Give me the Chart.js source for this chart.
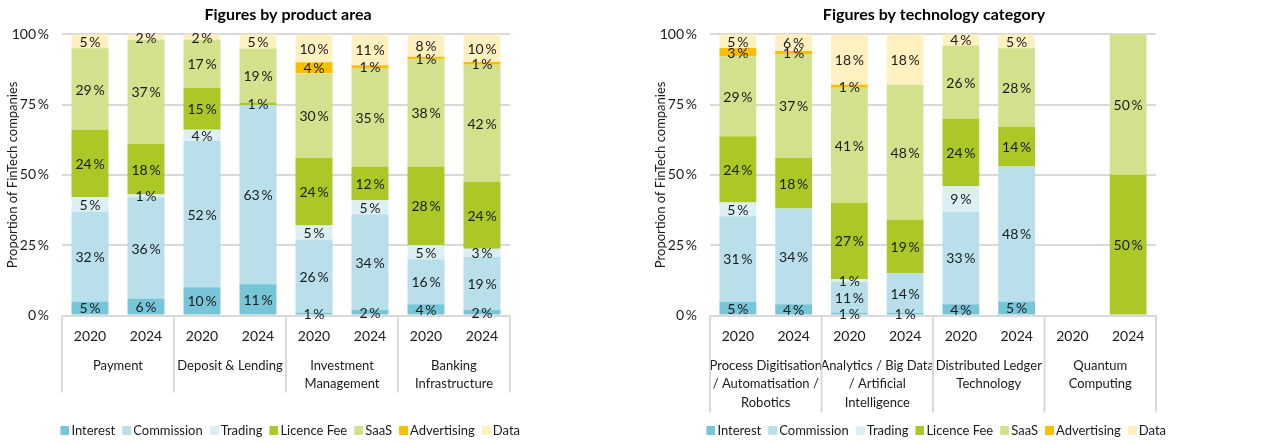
<!DOCTYPE html>
<html>
<head>
<meta charset="utf-8">
<script src="https://cdn.jsdelivr.net/npm/chart.js@4.4.1/dist/chart.umd.min.js"></script>
<style>
  html, body { margin: 0; padding: 0; background: #fff; }
  body { width: 1261px; height: 443px; position: relative; overflow: hidden; }
  .box { position: absolute; top: 0; height: 443px; }
  #left { left: 0; width: 576px; }
  #right { left: 648px; width: 572px; }
</style>
</head>
<body>
<div class="box" id="left"><canvas id="productChart"></canvas></div>
<div class="box" id="right"><canvas id="techChart"></canvas></div>
<script>
const years = ['2020', '2024'];
const productAreas = ['Payment', 'Deposit & Lending', ['Investment', 'Management'], ['Banking', 'Infrastructure']];
const techCategories = [
  ['Process Digitisation', '/ Automatisation /', 'Robotics'],
  ['Analytics / Big Data', '/ Artificial', 'Intelligence'],
  ['Distributed Ledger', 'Technology'],
  ['Quantum', 'Computing']
];
const revenueTypes = ['Interest', 'Commission', 'Trading', 'Licence Fee', 'SaaS', 'Advertising', 'Data'];
const revenueColors = ['#77c5d8', '#b9e0ea', '#dbeff5', '#acc827', '#d5e08c', '#fbbf00', '#fff0bf'];

// product area, 2020/2024 per area (values in %)
const productInterest    = [5, 6, 10, 11, 1, 2, 4, 2];
const productCommission  = [32, 36, 52, 63, 26, 34, 16, 19];
const productTrading     = [5, 1, 4, 0, 5, 5, 5, 3];
const productLicence     = [24, 18, 15, 1, 24, 12, 28, 24];
const productSaaS        = [29, 37, 17, 19, 30, 35, 38, 42];
const productAdvertising = [0, 0, 0, 0, 4, 1, 1, 1];
const productData        = [5, 2, 2, 5, 10, 11, 8, 10];

// technology category, 2020/2024 per category (values in %)
const techInterest    = [5, 4, 1, 1, 4, 5, null, 0];
const techCommission  = [31, 34, 11, 14, 33, 48, null, 0];
const techTrading     = [5, 0, 1, 0, 9, 0, null, 0];
const techLicence     = [24, 18, 27, 19, 24, 14, null, 50];
const techSaaS        = [29, 37, 41, 48, 26, 28, null, 50];
const techAdvertising = [3, 1, 1, 0, 0, 0, null, 0];
const techData        = [5, 6, 18, 18, 4, 5, null, 0];

const productSeries = [productInterest, productCommission, productTrading, productLicence, productSaaS, productAdvertising, productData];
const techSeries = [techInterest, techCommission, techTrading, techLicence, techSaaS, techAdvertising, techData];

const gray = '#d9d9d9';
const ink = '#1a1a1a';
Chart.defaults.font.family = 'Lato, "Open Sans", sans-serif';
Chart.defaults.font.size = 14;
Chart.defaults.color = ink;

// 100 % stacked: every bar is scaled to its own total
function toShares(series) {
  const n = series[0].length;
  const totals = [];
  for (let i = 0; i < n; i++) totals.push(series.reduce((s, arr) => s + (arr[i] || 0), 0));
  return series.map(arr => arr.map((v, i) => (v == null || !totals[i]) ? null : v / totals[i] * 100));
}

// legend swatch: square sits on the right half so the text comes close to it
function swatch(color) {
  const c = document.createElement('canvas');
  c.width = 18;
  c.height = 9;
  const g = c.getContext('2d');
  g.fillStyle = color;
  g.fillRect(9, 0, 9, 9);
  return c;
}

const barLabels = {
  id: 'barLabels',
  afterDatasetsDraw(chart) {
    const ctx = chart.ctx;
    ctx.save();
    ctx.font = '14px Lato';
    ctx.fillStyle = ink;
    ctx.textAlign = 'center';
    ctx.textBaseline = 'middle';
    chart.data.datasets.forEach((ds, di) => {
      chart.getDatasetMeta(di).data.forEach((bar, i) => {
        const v = ds.rawValues[i];
        if (!v) return;
        ctx.fillText(v + '\u2009%', bar.x, (bar.y + bar.base) / 2 + 1);
      });
    });
    ctx.restore();
  }
};

// vertical separators between the groups, below the plot
const groupLines = {
  id: 'groupLines',
  afterDraw(chart, args, opts) {
    const { ctx, chartArea } = chart;
    const n = chart.options.scales.x2.labels.length;
    const step = (chartArea.right - chartArea.left) / n;
    ctx.save();
    ctx.strokeStyle = gray;
    ctx.lineWidth = 2;
    for (let k = 0; k <= n; k++) {
      const x = chartArea.left + k * step;
      ctx.beginPath();
      ctx.moveTo(x, chartArea.bottom);
      ctx.lineTo(x, chartArea.bottom + opts.length);
      ctx.stroke();
    }
    ctx.restore();
  }
};

function makeChart(id, title, groups, series, sepLength, padRight) {
  const shares = toShares(series);
  return new Chart(document.getElementById(id), {
    type: 'bar',
    data: {
      labels: groups.flatMap(() => years),
      datasets: revenueTypes.map((name, i) => ({
        label: name,
        data: shares[i],
        rawValues: series[i],
        backgroundColor: revenueColors[i],
        pointStyle: swatch(revenueColors[i]),
        borderWidth: 0,
        barPercentage: 0.66,
        categoryPercentage: 1
      }))
    },
    options: {
      responsive: true,
      maintainAspectRatio: false,
      animation: false,
      layout: { padding: { bottom: -4 } },
      plugins: {
        title: { display: true, text: title, color: '#000', font: { size: 16, weight: 'bold' }, padding: { top: 5, bottom: 10 } },
        legend: {
          position: 'bottom',
          labels: { usePointStyle: true, boxWidth: 9, boxHeight: 9, padding: 2.5, font: { size: 13 } }
        },
        tooltip: { enabled: false },
        groupLines: { length: sepLength }
      },
      scales: {
        x: {
          stacked: true, weight: 0,
          grid: { display: false, drawTicks: false }, border: { display: false },
          ticks: { padding: 13 },
          afterFit: s => { s.height = 35; }
        },
        x2: {
          type: 'category', labels: groups, position: 'bottom', offset: true, weight: 1,
          grid: { display: false, drawTicks: false }, border: { display: false },
          ticks: { padding: 6, autoSkip: false, maxRotation: 0, font: { size: 13, lineHeight: 1.42 } },
          afterFit: s => { s.height = 71; }
        },
        y: {
          stacked: true, min: 0, max: 100,
          ticks: { stepSize: 25, padding: 13, callback: v => v + '\u2009%' },
          grid: { color: gray, lineWidth: 2, drawTicks: false },
          border: { display: false },
          title: { display: true, text: 'Proportion of FinTech companies', font: { size: 13 }, padding: { top: 5, bottom: 0 } },
          afterFit: s => { s.width = 62; }
        },
        pad: {
          type: 'linear', position: 'right',
          grid: { display: false }, border: { display: false }, ticks: { display: false },
          afterFit: s => { s.width = padRight; }
        }
      }
    },
    plugins: [barLabels, groupLines]
  });
}

makeChart('productChart', 'Figures by product area', productAreas, productSeries, 77, 66);
makeChart('techChart', 'Figures by technology category', techCategories, techSeries, 97, 64);
</script>
</body>
</html>
